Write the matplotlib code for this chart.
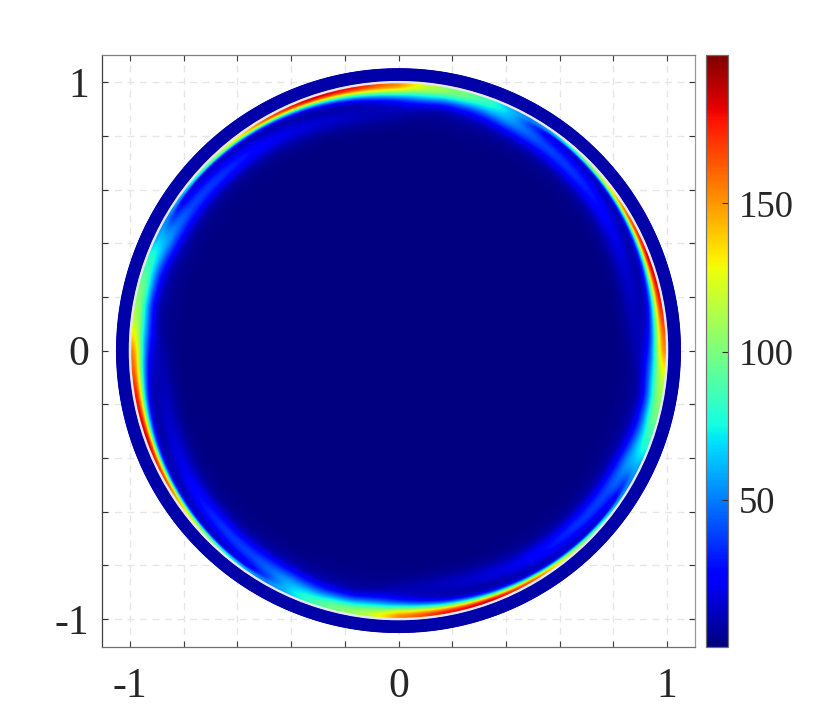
import numpy as np
import matplotlib
matplotlib.use('Agg')
import matplotlib.pyplot as plt
from matplotlib.patches import Circle

plt.rcParams['font.family'] = ['Liberation Serif', 'DejaVu Serif']

# angular knots, the pattern repeats every 90 degrees
sector_deg = [0, 6, 10, 20, 30, 38, 45, 50, 55, 60, 65, 70, 75, 80, 85, 90]
ridge_peak = [150, 165, 175, 182, 160, 125, 95, 72, 50, 30, 15, 15, 45, 85, 120, 150]
ridge_width = [.034, .029, .025, .018, .013, .010, .008, .007, .007, .010, .014, .020, .030, .034, .036, .034]
lobe_peak = [6, 7, 8, 12, 18, 26, 32, 34, 36, 44, 58, 68, 52, 24, 10, 6]
lobe_radius = [.90, .89, .89, .90, .915, .925, .93, .935, .94, .95, .965, .98, .98, .97, .94, .90]
lobe_width = [.028, .028, .028, .028, .028, .028, .028, .029, .031, .034, .038, .040, .040, .036, .03, .028]

# faint rings inside the wall
ring_r = [0, .76, .80, .84, .87, .90, .95, 1.0]
ring_val = [.8, .8, 1.3, 2.6, 3.5, 3.2, 2.5, 2]

wall_value = 8
x_ticks = [-1, -.8, -.6, -.4, -.2, 0, .2, .4, .6, .8, 1]
tick_text = ['-1', '', '', '', '', '0', '', '', '', '', '1']
cbar_ticks = [50, 100, 150]
cmin, cmax = .7, 200

theta = np.radians(np.linspace(0, 360, 1441))
radius = np.linspace(0, .995, 600)
T, R = np.meshgrid(theta, radius)
sec = np.degrees(T) % 90

# build the field from the tables
ridge = np.interp(sec, sector_deg, ridge_peak) * np.exp(-(R - .995)**2 / (2 * np.interp(sec, sector_deg, ridge_width)**2))
lobe = np.interp(sec, sector_deg, lobe_peak) * np.exp(-(R - np.interp(sec, sector_deg, lobe_radius))**2 / (2 * np.interp(sec, sector_deg, lobe_width)**2))
field = ridge + lobe + np.interp(R, ring_r, ring_val)

W, H = 831, 727
fig = plt.figure(figsize=(W / 100, H / 100), dpi=100)
ax = fig.add_axes([102 / W, 1 - 646.5 / H, 593 / W, 591.5 / H])

mesh = ax.pcolormesh(R * np.cos(T), R * np.sin(T), field, cmap='jet', vmin=cmin, vmax=cmax, shading='gouraud')

# outer wall band
Ro, To = np.meshgrid(np.array([1.005, 1.05]), theta)
ax.pcolormesh(Ro * np.cos(To), Ro * np.sin(To), np.full(Ro.shape, wall_value), cmap='jet', vmin=cmin, vmax=cmax, shading='gouraud')
ax.add_patch(Circle((0, 0), 1.0, fill=False, ec='#e6e6ee', lw=1.7, zorder=3))

ax.set_xlim(-1.104, 1.104)
ax.set_ylim(-1.102, 1.101)
ax.set_xticks(x_ticks)
ax.set_yticks(x_ticks)
ax.set_xticklabels(tick_text)
ax.set_yticklabels(tick_text)
ax.grid(True, color='#e6e6e6', ls=(0, (5, 4)), lw=1.0)
ax.set_axisbelow(True)
ax.tick_params(axis='x', direction='in', length=4, width=.8, top=True, color='#404040', labelcolor='#262626', labelsize=30, pad=15)
ax.tick_params(axis='y', direction='in', length=4, width=.8, right=True, color='#303030', labelcolor='#262626', labelsize=30, pad=9)
ax.spines['left'].set_color('#404040')
ax.spines['bottom'].set_color('#707070')
ax.spines['top'].set_color('#808080')
ax.spines['right'].set_color('#999999')
for s in ax.spines.values():
    s.set_linewidth(.9)

cax = fig.add_axes([705.5 / W, 1 - 646.5 / H, 22.5 / W, 591.5 / H])
cbar = fig.colorbar(mesh, cax=cax)
cbar.set_ticks(cbar_ticks)
cbar.ax.tick_params(direction='in', length=4.5, width=.8, color='#303030', labelcolor='#262626', labelsize=26.5, pad=8)
cbar.outline.set_edgecolor('#707070')
cbar.outline.set_linewidth(.9)

fig.savefig('out.png', dpi=100)
